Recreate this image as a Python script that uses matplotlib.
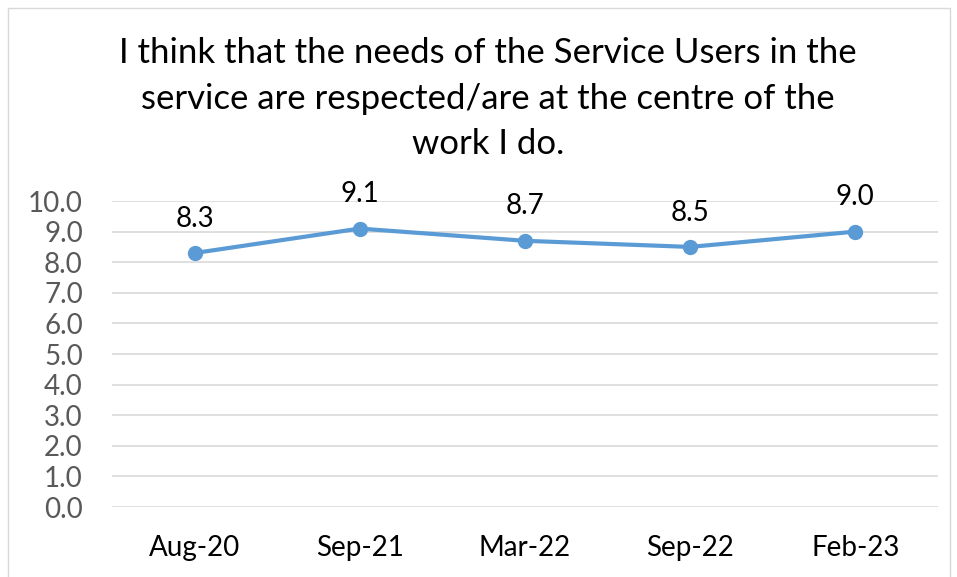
import matplotlib.pyplot as plt
from matplotlib.patches import Rectangle

categories = ["Aug-20", "Sep-21", "Mar-22", "Sep-22", "Feb-23"]
scores = [8.3, 9.1, 8.7, 8.5, 9.0]
yticks = [0, 1, 2, 3, 4, 5, 6, 7, 8, 9, 10]
title = ("I think that the needs of the Service Users in the\n"
         "service are respected/are at the centre of the\n"
         "work I do.")

plt.rcParams["font.family"] = ["Lato", "DejaVu Sans"]

fig = plt.figure(figsize=(9.57, 5.77), dpi=100)
ax = fig.add_axes([0.117, 0.1213, 0.863, 0.5303])

x = list(range(len(categories)))
ax.plot(x, scores, color="#5B9BD5", linewidth=3, marker="o", markersize=10,
        solid_capstyle="round", zorder=3)
for xi, v in zip(x, scores):
    ax.annotate(f"{v:.1f}", (xi, v), xytext=(0, 19), textcoords="offset points",
                ha="center", va="baseline", fontsize=20, color="black")

ax.set_xlim(-0.5, len(categories) - 0.5)
ax.set_ylim(0, 10)
ax.set_yticks(yticks)
ax.set_yticklabels([f"{t:.1f}" for t in yticks], fontsize=20, color="#595959")
ax.set_xticks(x)
ax.set_xticklabels(categories, fontsize=20, color="black")
ax.tick_params(axis="both", length=0)
ax.tick_params(axis="y", pad=21)
ax.tick_params(axis="x", pad=20)
ax.grid(axis="y", color="#D9D9D9", linewidth=1.2)
for s in ax.spines.values():
    s.set_visible(False)

fig.text(0.51, 0.936, title, ha="center", va="top", fontsize=25,
         linespacing=1.53, color="black")

fig.patches.append(Rectangle((8 / 957, -0.01), 942 / 957, 1 - 8 / 577 + 0.01,
                             transform=fig.transFigure, fill=False,
                             edgecolor="#D9D9D9", linewidth=1))

fig.savefig("out.png", dpi=100)
